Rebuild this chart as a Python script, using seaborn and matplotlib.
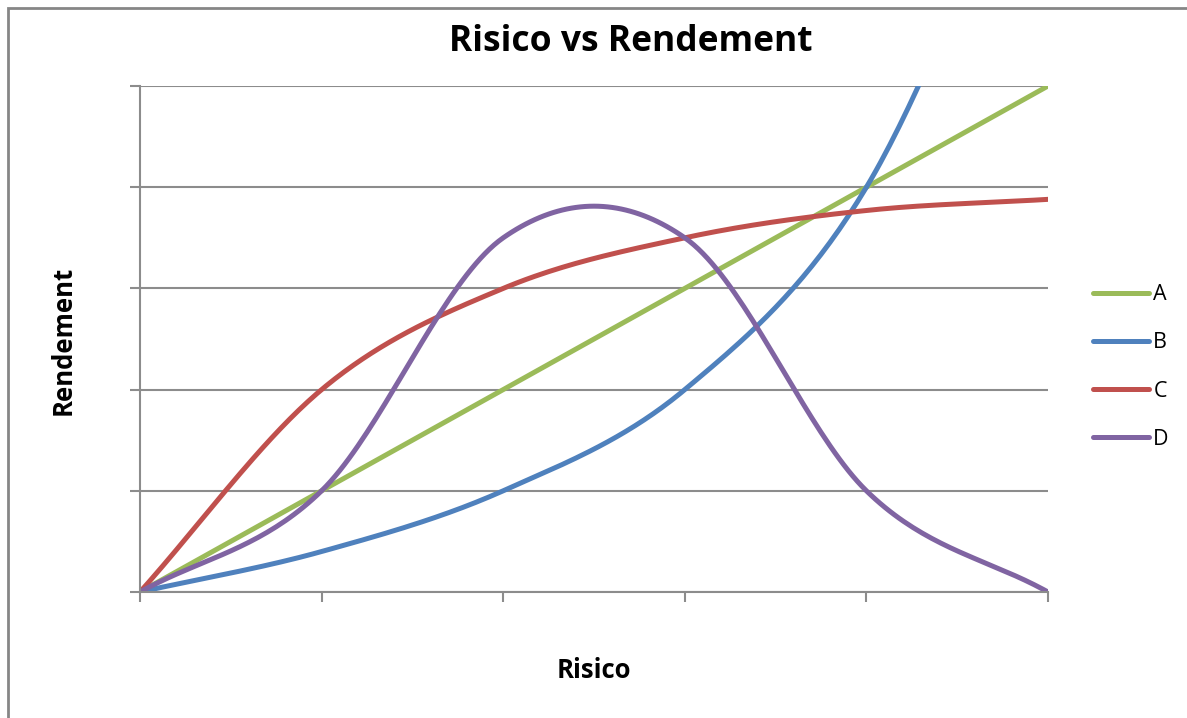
import numpy as np
import pandas as pd
import matplotlib
matplotlib.use("Agg")
import matplotlib.pyplot as plt
import seaborn as sns
from matplotlib.patches import Rectangle
from matplotlib.lines import Line2D

# ---- data (points of the Excel smoothed series) ----
risico = [0, 1, 2, 3, 4, 5]
serie_a = [0, 1, 2, 3, 4, 5]
serie_b = [0, 0.4, 1, 2, 4, 8]
serie_c = [0, 2, 3, 3.5, 3.77, 3.88]
serie_d = [0, 1, 3.5, 3.5, 1, 0]
namen = ["A", "B", "C", "D"]
kleuren = ["#9BBB59", "#4F81BD", "#C0504D", "#8064A2"]


def smooth(xs, ys, n=40):
    """Catmull-Rom smoothing (as Excel 'smoothed line') for rendering."""
    xs = np.asarray(xs, float)
    ys = np.asarray(ys, float)
    px = np.concatenate([[2 * xs[0] - xs[1]], xs, [2 * xs[-1] - xs[-2]]])
    py = np.concatenate([[2 * ys[0] - ys[1]], ys, [2 * ys[-1] - ys[-2]]])
    ox, oy = [], []
    for i in range(1, len(px) - 2):
        t = np.linspace(0, 1, n, endpoint=(i == len(px) - 3))
        for P, out in ((px, ox), (py, oy)):
            p0, p1, p2, p3 = P[i - 1], P[i], P[i + 1], P[i + 2]
            m1 = (p2 - p0) / 2
            m2 = (p3 - p1) / 2
            h00 = 2 * t**3 - 3 * t**2 + 1
            h10 = t**3 - 2 * t**2 + t
            h01 = -2 * t**3 + 3 * t**2
            h11 = t**3 - t**2
            out.extend(h00 * p1 + h10 * m1 + h01 * p2 + h11 * m2)
    return np.array(ox), np.array(oy)


frames = []
for naam, ys in zip(namen, [serie_a, serie_b, serie_c, serie_d]):
    sx, sy = smooth(risico, ys)
    frames.append(pd.DataFrame({"Risico": sx, "Rendement": sy, "Serie": naam}))
df = pd.concat(frames, ignore_index=True)

sns.set_theme(style="white")
plt.rcParams["font.family"] = ["Open Sans", "DejaVu Sans"]
plt.rcParams["text.color"] = "black"

W, H = 1187, 718
fig = plt.figure(figsize=(W / 100, H / 100), dpi=100)
ax = fig.add_axes([140 / W, 1 - 592 / H, (1048 - 140) / W, (592 - 86) / H])

sns.lineplot(data=df, x="Risico", y="Rendement", hue="Serie", palette=kleuren,
             hue_order=namen, sort=False, estimator=None, units="Serie",
             linewidth=3.6, ax=ax, legend=False, solid_capstyle="round")

ax.set_xlim(0, 5)
ax.set_ylim(0, 5)
ax.set_xticks(risico)
ax.set_yticks([0, 1, 2, 3, 4, 5])
ax.set_xticklabels([])
ax.set_yticklabels([])
ax.tick_params(axis="both", length=7, width=1.5, color="#8C8C8C", direction="out",
               bottom=True, left=True)
ax.grid(axis="y", color="#8C8C8C", linewidth=1.5)
ax.set_axisbelow(True)
for s in ["top", "right"]:
    ax.spines[s].set_visible(False)
for s in ["left", "bottom"]:
    ax.spines[s].set_color("#8C8C8C")
    ax.spines[s].set_linewidth(1.5)
ax.set_xlabel("")
ax.set_ylabel("")

# legend
handles = [Line2D([0], [0], color=c, lw=3.6, solid_capstyle="round") for c in kleuren]
leg = fig.legend(handles, namen, loc="center left", bbox_to_anchor=(1093 / W, 1 - 367 / H),
                 frameon=False, fontsize=15.5, handlelength=2.6, handletextpad=0.2,
                 labelspacing=1.26, borderpad=0, borderaxespad=0)
for t in leg.get_texts():
    t.set_color("black")

fig.text(631 / W, 1 - 42 / H, "Risico vs Rendement", ha="center", va="center",
         fontsize=25.5, fontweight="bold", color="black")
fig.text(594 / W, 1 - 670 / H, "Risico", ha="center", va="center",
         fontsize=18.5, fontweight="bold", color="black")
fig.text(63 / W, 1 - 340 / H, "Rendement", ha="center", va="center",
         fontsize=18.5, fontweight="bold", rotation=90, color="black")

# chart border (partly outside the image, as in the reference)
fig.patches.append(Rectangle((8 / W, -0.1), 1.2, 1 - 8 / H + 0.1,
                             transform=fig.transFigure, fill=False,
                             edgecolor="#868686", linewidth=2))

fig.savefig("out.png", dpi=100)
